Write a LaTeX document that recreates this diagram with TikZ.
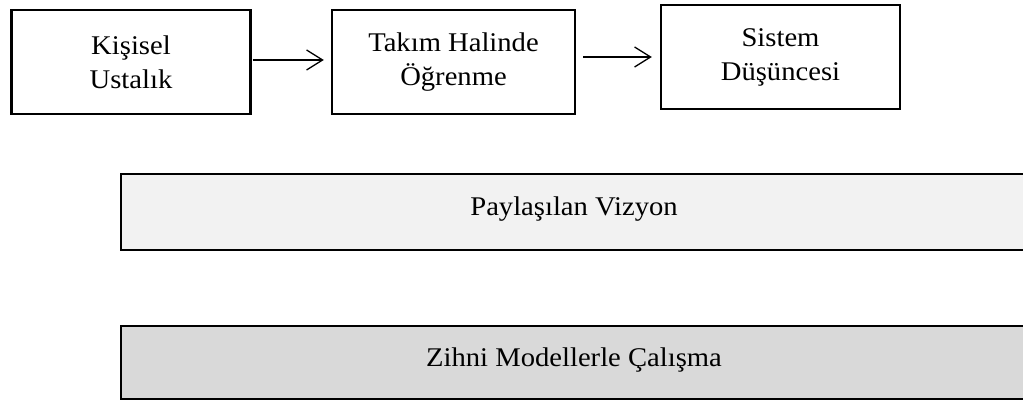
\documentclass[tikz,border=0pt]{standalone}
\usepackage{fontspec}
\setmainfont{Liberation Serif}
\newfontfamily\wideserif[FakeStretch=1.06]{Liberation Serif}
\usetikzlibrary{arrows.meta}

\begin{document}
\begin{tikzpicture}[x=1pt,y=-1pt,
    smallbox/.style={draw,line width=2.4pt,minimum width=239pt,minimum height=104pt,
        align=center,font=\wideserif\fontsize{27}{34}\selectfont},
    bigbox/.style={draw,line width=2pt},
    bigtext/.style={font=\wideserif\fontsize{27}{34}\selectfont},
    link/.style={line width=1.3pt,-{Straight Barb[length=16pt,width=20pt,line width=1.3pt]}}]
\useasboundingbox (0,0) rectangle (1023,403);
\clip (0,0) rectangle (1023,403);
% top row
\node[smallbox] (ustalik) at (131,62) {Kişisel\\Ustalık};
\node[smallbox,minimum width=243pt] (takim) at (453.5,62) {Takım Halinde\\Öğrenme};
\node[smallbox] (sistem) at (780.5,57) {Sistem\\Düşüncesi};
\draw[link,shorten <=1pt,shorten >=7pt] ([yshift=2pt]ustalik.east) -- ([yshift=2pt]ustalik.east -| takim.west);
\draw[link,shorten <=7pt,shorten >=8pt] (sistem.west -| takim.east) -- (sistem.west);
% lower bars
\draw[bigbox,fill={rgb,255:red,242;green,242;blue,242}] (121,174) rectangle (1060,250);
\node[bigtext] (vizyon) at (574,209) {Paylaşılan Vizyon};
\draw[bigbox,fill={rgb,255:red,217;green,217;blue,217}] (121,326) rectangle (1060,399);
\node[bigtext] (zihni) at (574,360) {Zihni Modellerle Çalışma};
\end{tikzpicture}
\end{document}
